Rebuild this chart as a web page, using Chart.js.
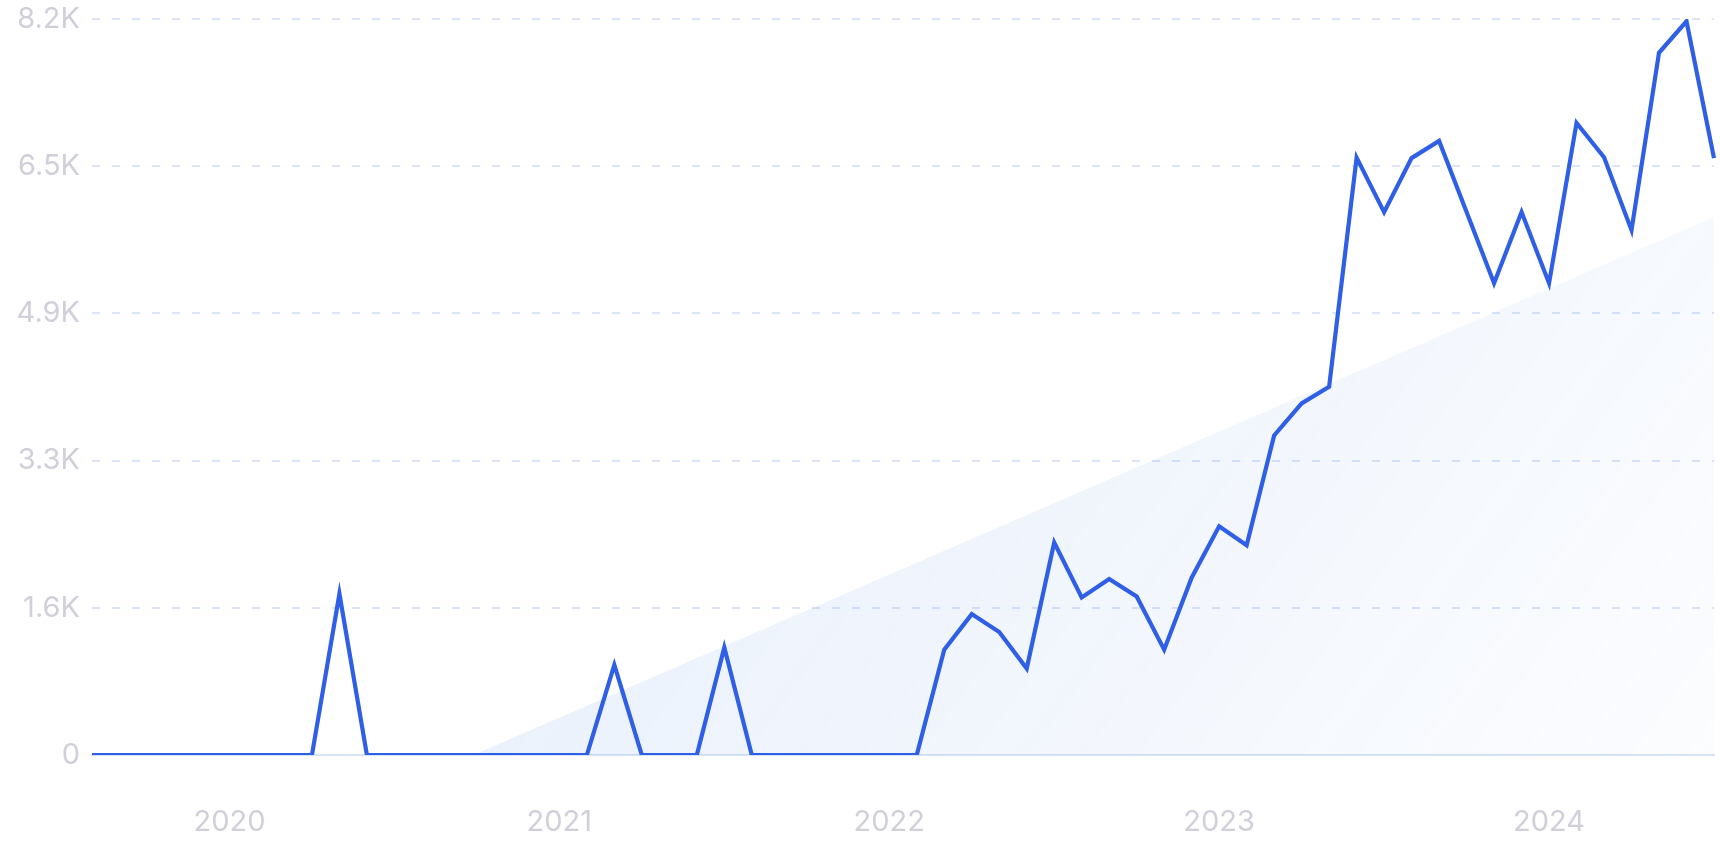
<!DOCTYPE html>
<html>
<head>
<meta charset="utf-8">
<script src="https://cdn.jsdelivr.net/npm/chart.js@4/dist/chart.umd.min.js"></script>
<style>
  html, body { margin: 0; padding: 0; background: #ffffff; }
  #wrap { width: 1720px; height: 860px; position: relative; }
</style>
</head>
<body>
<div id="wrap"><canvas id="c" width="1720" height="860"></canvas></div>
<script>
// Monthly categories (Aug 2019 – Jul 2024)
const months = [
  '2019-08','2019-09','2019-10','2019-11','2019-12',
  '2020-01','2020-02','2020-03','2020-04','2020-05','2020-06','2020-07','2020-08','2020-09','2020-10','2020-11','2020-12',
  '2021-01','2021-02','2021-03','2021-04','2021-05','2021-06','2021-07','2021-08','2021-09','2021-10','2021-11','2021-12',
  '2022-01','2022-02','2022-03','2022-04','2022-05','2022-06','2022-07','2022-08','2022-09','2022-10','2022-11','2022-12',
  '2023-01','2023-02','2023-03','2023-04','2023-05','2023-06','2023-07','2023-08','2023-09','2023-10','2023-11','2023-12',
  '2024-01','2024-02','2024-03','2024-04','2024-05','2024-06','2024-07'
];

// Search volume per month
const volume = [
  0, 0, 0, 0, 0,
  0, 0, 0, 0, 1790, 0, 0, 0, 0, 0, 0, 0,
  0, 0, 1000, 0, 0, 0, 1195, 0, 0, 0, 0, 0,
  0, 0, 1170, 1565, 1365, 960, 2360, 1750, 1955, 1760, 1170, 1970,
  2540, 2330, 3550, 3905, 4090, 6635, 6030, 6630, 6820, 6030, 5240, 6030,
  5240, 7020, 6640, 5830, 7800, 8150, 6630
];

// Trend line: value at first and last month (straight line between)
const trendStart = -1837;
const trendEnd = 5976;

// Axis ticks
const yTickValues = [0, 1635, 3270, 4905, 6540, 8175];
const yTickLabels = ['0', '1.6K', '3.3K', '4.9K', '6.5K', '8.2K'];
const yearLabels = { '2020-01': '2020', '2021-01': '2021', '2022-01': '2022', '2023-01': '2023', '2024-01': '2024' };

const trend = months.map((m, i) => i === 0 ? trendStart : (i === months.length - 1 ? trendEnd : null));
const ctx = document.getElementById('c').getContext('2d');

function fillGradient(context) {
  const chart = context.chart;
  const a = chart.chartArea;
  if (!a) return 'rgba(60,120,230,0.08)';
  const g = chart.ctx.createLinearGradient(a.left + (a.right - a.left) * 0.25, a.top, a.right, a.bottom + 150);
  g.addColorStop(0, 'rgba(70,130,225,0.14)');
  g.addColorStop(0.5, 'rgba(70,130,225,0.08)');
  g.addColorStop(1, 'rgba(70,130,225,0.01)');
  return g;
}

new Chart(ctx, {
  type: 'line',
  data: {
    labels: months,
    datasets: [
      { data: volume, borderColor: '#2f5fe6', borderWidth: 4.2, pointRadius: 0, pointHoverRadius: 0, tension: 0, fill: false, order: 0, borderJoinStyle: 'miter' },
      { data: trend, borderWidth: 0, borderColor: 'rgba(0,0,0,0)', backgroundColor: fillGradient, pointRadius: 0, pointHoverRadius: 0, spanGaps: true, tension: 0, fill: 'origin', order: 1 }
    ]
  },
  options: {
    responsive: false,
    animation: false,
    events: [],
    layout: { autoPadding: false, padding: { left: 15, right: 6, top: 19, bottom: 20 } },
    plugins: { legend: { display: false }, tooltip: { enabled: false } },
    scales: {
      x: {
        offset: false,
        grid: { display: false, drawTicks: false },
        border: { display: true, color: '#d6e3fb', width: 2 },
        afterFit: function (s) { s.height = 85; s.paddingLeft = 0; s.paddingRight = 0; },
        ticks: {
          autoSkip: false, maxRotation: 0, padding: 50, color: '#cfd0da',
          font: { family: 'Inter', size: 29 },
          callback: function (v, i) { return yearLabels[months[i]] || ''; }
        }
      },
      y: {
        min: yTickValues[0],
        max: yTickValues[yTickValues.length - 1],
        afterBuildTicks: function (scale) { scale.ticks = yTickValues.map(v => ({ value: v })); },
        afterFit: function (s) { s.width = 77; s.paddingTop = 0; s.paddingBottom = 0; },
        grid: { color: '#dbe5fb', lineWidth: 2, drawTicks: false },
        border: { display: false, dash: [8, 12] },
        ticks: {
          padding: 12, color: '#cfd0da',
          font: { family: 'Inter', size: 29 },
          callback: function (v, i) { return yTickLabels[i]; }
        }
      }
    }
  }
});
</script>
</body>
</html>
